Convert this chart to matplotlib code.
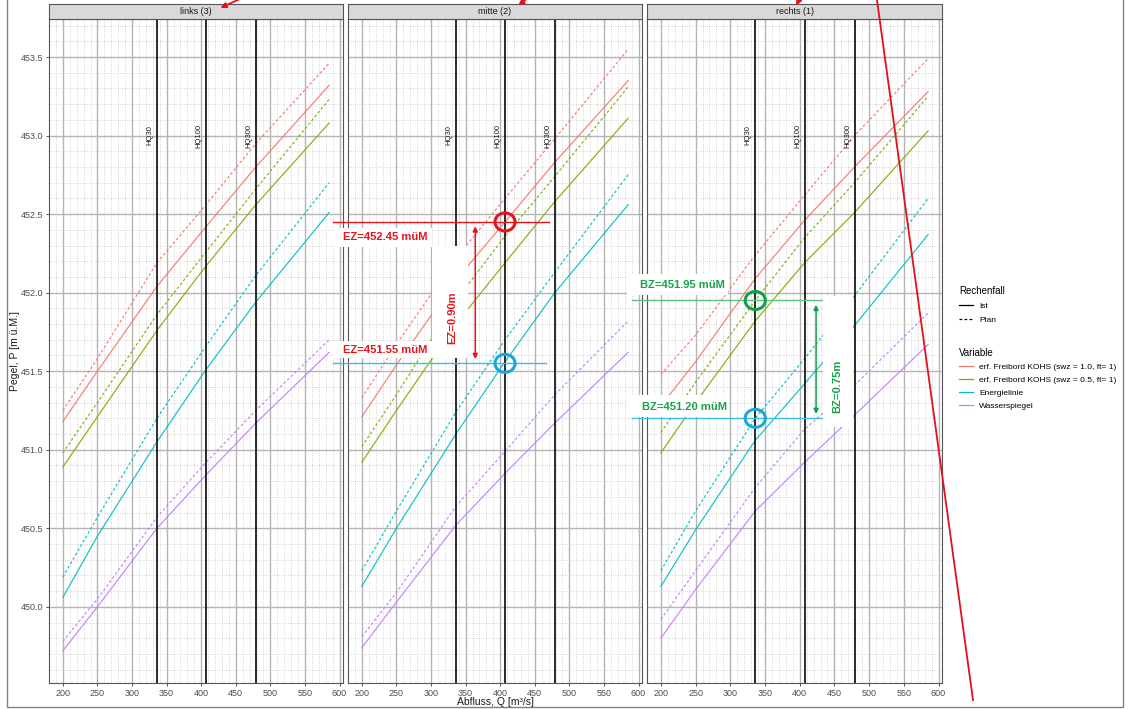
import numpy as np
import matplotlib
matplotlib.use("Agg")
import matplotlib.pyplot as plt
from matplotlib.lines import Line2D
from matplotlib.patches import Ellipse, Rectangle
from matplotlib.transforms import Affine2D

plt.rcParams['font.family'] = ['Liberation Sans', 'DejaVu Sans']

# Data
panels = ["links (3)", "mitte (2)", "rechts (1)"]
variables = ["erf. Freibord KOHS (swz = 1.0, ft= 1)",
             "erf. Freibord KOHS (swz = 0.5, ft= 1)",
             "Energielinie",
             "Wasserspiegel"]
colors = ["#F8766D", "#7CAE00", "#00BFC4", "#C77CFF"]
cases = ["Ist", "Plan"]

Q = [200, 250, 336, 407, 479, 585]
hq_names = ["HQ30", "HQ100", "HQ300"]
hq_values = [336, 407, 479]

# per panel: one list per variable (Freibord 1.0, Freibord 0.5, Energielinie, Wasserspiegel)
links_ist = [[451.18, 451.50, 452.04, 452.42, 452.80, 453.32],
             [450.89, 451.21, 451.76, 452.17, 452.56, 453.08],
             [450.06, 450.45, 451.05, 451.51, 451.94, 452.51],
             [449.72, 450.00, 450.50, 450.84, 451.17, 451.62]]
links_plan = [[451.25, 451.58, 452.19, 452.56, 452.95, 453.46],
              [450.98, 451.30, 451.86, 452.26, 452.66, 453.23],
              [450.19, 450.57, 451.20, 451.66, 452.11, 452.70],
              [449.78, 450.05, 450.57, 450.92, 451.25, 451.70]]
mitte_ist = [[451.21, 451.54, 452.08, 452.45, 452.83, 453.35],
             [450.92, 451.25, 451.80, 452.19, 452.58, 453.11],
             [450.13, 450.50, 451.10, 451.56, 452.00, 452.56],
             [449.74, 450.03, 450.52, 450.85, 451.17, 451.62]]
mitte_plan = [[451.33, 451.67, 452.22, 452.60, 452.98, 453.55],
              [451.02, 451.35, 451.95, 452.36, 452.74, 453.31],
              [450.23, 450.61, 451.24, 451.70, 452.13, 452.75],
              [449.81, 450.09, 450.64, 450.99, 451.35, 451.82]]
rechts_ist = [[451.28, 451.56, 452.09, 452.46, 452.80, 453.28],
              [450.98, 451.30, 451.82, 452.19, 452.51, 453.03],
              [450.13, 450.49, 451.06, 451.42, 451.79, 452.37],
              [449.80, 450.11, 450.61, 450.92, 451.22, 451.67]]
rechts_plan = [[451.48, 451.73, 452.24, 452.62, 453.00, 453.49],
               [451.11, 451.43, 451.95, 452.35, 452.70, 453.25],
               [450.23, 450.61, 451.20, 451.58, 451.98, 452.60],
               [449.92, 450.23, 450.76, 451.13, 451.41, 451.87]]

ist_data = [links_ist, mitte_ist, rechts_ist]
plan_data = [links_plan, mitte_plan, rechts_plan]

# Figure layout (pixel based)
W, H = 1130, 709
fig = plt.figure(figsize=(W / 100, H / 100), dpi=100)
px = Affine2D().scale(1 / W, -1 / H).translate(0, 1) + fig.transFigure

lefts = [49, 348, 647]
rights = [343, 642, 942]
top, bottom, strip_top = 19, 683, 4
dash = (0, (2.2, 1.8))

axes = []
for i, name in enumerate(panels):
    ax = fig.add_axes([lefts[i] / W, 1 - bottom / H,
                       (rights[i] - lefts[i]) / W, (bottom - top) / H])
    axes.append(ax)
    ax.set_xlim(180, 605)
    ax.set_ylim(449.515, 453.742)
    ax.set_xticks(np.arange(200, 601, 50))
    ax.set_xticks(np.arange(180, 606, 10), minor=True)
    ax.set_yticks(np.arange(450.0, 453.51, 0.5))
    ax.set_yticks(np.arange(449.6, 453.75, 0.1), minor=True)
    ax.grid(which='major', color='#b4b4b4', lw=1.0)
    ax.grid(which='minor', color='#c8c8c8', lw=0.6, ls=':')
    ax.set_axisbelow(True)
    ax.tick_params(which='minor', length=0)
    ax.tick_params(which='major', length=2.5, width=0.6, color='#333333',
                   labelsize=6.5, labelcolor='#4d4d4d', pad=1.5)
    if i == 0:
        ax.set_yticklabels([f"{v:.1f}" for v in np.arange(450.0, 453.51, 0.5)])
    else:
        ax.tick_params(axis='y', length=0, labelleft=False)
    for s in ax.spines.values():
        s.set_color('#555555')
        s.set_linewidth(0.8)

    for k in range(4):
        ax.plot(Q, ist_data[i][k], color=colors[k], lw=0.9, alpha=0.9, zorder=2)
        ax.plot(Q, plan_data[i][k], color=colors[k], lw=0.9, alpha=0.9, ls=dash, zorder=2)

    for hn, hv in zip(hq_names, hq_values):
        ax.axvline(hv, color='#1a1a1a', lw=1.3, zorder=3)
        ax.annotate(hn, (hv, 453.0), xytext=(-2.5, 0), textcoords='offset points',
                    rotation=90, ha='right', va='center', fontsize=5.5, color='#1a1a1a')

    # strip
    sax = fig.add_axes([lefts[i] / W, 1 - top / H,
                        (rights[i] - lefts[i]) / W, (top - strip_top) / H])
    sax.set_facecolor('#d9d9d9')
    sax.set_xticks([])
    sax.set_yticks([])
    for s in sax.spines.values():
        s.set_color('#555555')
        s.set_linewidth(0.8)
    sax.text(0.5, 0.5, name, ha='center', va='center', fontsize=6.5, color='#1a1a1a',
             transform=sax.transAxes)

fig.text(15 / W, 1 - 351 / H, "Pegel, P [m ü.M.]", rotation=90, ha='center', va='center',
         fontsize=7.5, color='#1a1a1a')
fig.text(495.5 / W, 1 - 702 / H, "Abfluss, Q [m³/s]", ha='center', va='center',
         fontsize=7.5, color='#1a1a1a')

# Legends
h1 = [Line2D([], [], color='black', lw=0.9, ls=ls) for ls in ['-', dash]]
leg1 = fig.legend(h1, cases, title="Rechenfall", loc='upper left',
                  bbox_to_anchor=(955 / W, 1 - 282 / H), frameon=False, fontsize=6,
                  title_fontsize=7, handlelength=1.7, handletextpad=0.7,
                  labelspacing=0.75, borderpad=0, alignment='left')
h2 = [Line2D([], [], color=c, lw=0.9) for c in colors]
leg2 = fig.legend(h2, variables, title="Variable", loc='upper left',
                  bbox_to_anchor=(955 / W, 1 - 344 / H), frameon=False, fontsize=6,
                  title_fontsize=7, handlelength=1.7, handletextpad=0.7,
                  labelspacing=0.6, borderpad=0, alignment='left')

# Annotations panel "mitte"
red, cyan_a, green_l, green_t = '#e8141b', '#3dbde3', '#5cc27f', '#16a34a'
ax2 = axes[1]
for (x0, y0, x1, y1) in [(333, 228, 432, 247), (432, 246, 468, 358), (333, 341, 432, 358)]:
    fig.add_artist(Rectangle((x0, y0), x1 - x0, y1 - y0, transform=px,
                             facecolor='white', edgecolor='none', zorder=5))
ax2.plot([158, 470], [452.45, 452.45], color=red, lw=1.0, clip_on=False, zorder=6)
ax2.plot([158, 466], [451.55, 451.55], color=cyan_a, lw=1.0, clip_on=False, zorder=6)
ax2.add_patch(Ellipse((407, 452.45), 29, 0.115, fill=False, edgecolor=red, lw=2.2,
                      clip_on=False, zorder=7))
ax2.add_patch(Ellipse((407, 451.55), 29, 0.115, fill=False, edgecolor='#1aa6e0', lw=2.2,
                      clip_on=False, zorder=7))
ax2.annotate('', xy=(364, 451.56), xytext=(364, 452.44),
             arrowprops=dict(arrowstyle='<|-|>', color=red, lw=1.1, mutation_scale=7),
             annotation_clip=False, zorder=7)
fig.text(343 / W, 1 - 237 / H, "EZ=452.45 müM", color=red, fontweight='bold',
         fontsize=8, ha='left', va='center', zorder=8)
fig.text(343 / W, 1 - 350 / H, "EZ=451.55 müM", color=red, fontweight='bold',
         fontsize=8, ha='left', va='center', zorder=8)
fig.text(452 / W, 1 - 318 / H, "EZ=0.90m", color=red, fontweight='bold', rotation=90,
         fontsize=8, ha='center', va='center', zorder=8)

# Annotations panel "rechts"
ax3 = axes[2]
for (x0, y0, x1, y1) in [(627, 274, 728, 295), (627, 395, 728, 417), (823, 296, 853, 427)]:
    fig.add_artist(Rectangle((x0, y0), x1 - x0, y1 - y0, transform=px,
                             facecolor='white', edgecolor='none', zorder=5))
ax3.plot([158, 435], [451.95, 451.95], color=green_l, lw=1.0, clip_on=False, zorder=6)
ax3.plot([158, 435], [451.20, 451.20], color=cyan_a, lw=1.0, clip_on=False, zorder=6)
ax3.add_patch(Ellipse((336, 451.95), 29, 0.115, fill=False, edgecolor='#12a04a', lw=2.2,
                      clip_on=False, zorder=7))
ax3.add_patch(Ellipse((336, 451.20), 29, 0.115, fill=False, edgecolor='#1aa6e0', lw=2.2,
                      clip_on=False, zorder=7))
ax3.annotate('', xy=(423.6, 451.21), xytext=(423.6, 451.94),
             arrowprops=dict(arrowstyle='<|-|>', color='#12a04a', lw=1.1, mutation_scale=7),
             annotation_clip=False, zorder=7)
fig.text(640 / W, 1 - 285 / H, "BZ=451.95 müM", color=green_t, fontweight='bold',
         fontsize=8, ha='left', va='center', zorder=8)
fig.text(642 / W, 1 - 407 / H, "BZ=451.20 müM", color=green_t, fontweight='bold',
         fontsize=8, ha='left', va='center', zorder=8)
fig.text(837 / W, 1 - 386 / H, "BZ=0.75m", color=green_t, fontweight='bold', rotation=90,
         fontsize=8, ha='center', va='center', zorder=8)

# red markings on top of the screenshot
fig.add_artist(Line2D([877, 973], [0, 700], transform=px, color='#e3101a', lw=1.3, zorder=9))
for (x0, y0, x1, y1) in [(242, -2, 218, 9), (528, -2, 516, 7), (800, -2, 795, 8)]:
    fig.add_artist(plt.matplotlib.patches.FancyArrowPatch(
        (x0, y0), (x1, y1), transform=px, arrowstyle='-|>', color='#e3101a',
        lw=1.3, mutation_scale=8, zorder=9))

# outer frame
fig.add_artist(Rectangle((7, -3), 1116, 710, transform=px, fill=False,
                         edgecolor='#808080', lw=1.0, zorder=9))

fig.savefig("out.png", dpi=100)
